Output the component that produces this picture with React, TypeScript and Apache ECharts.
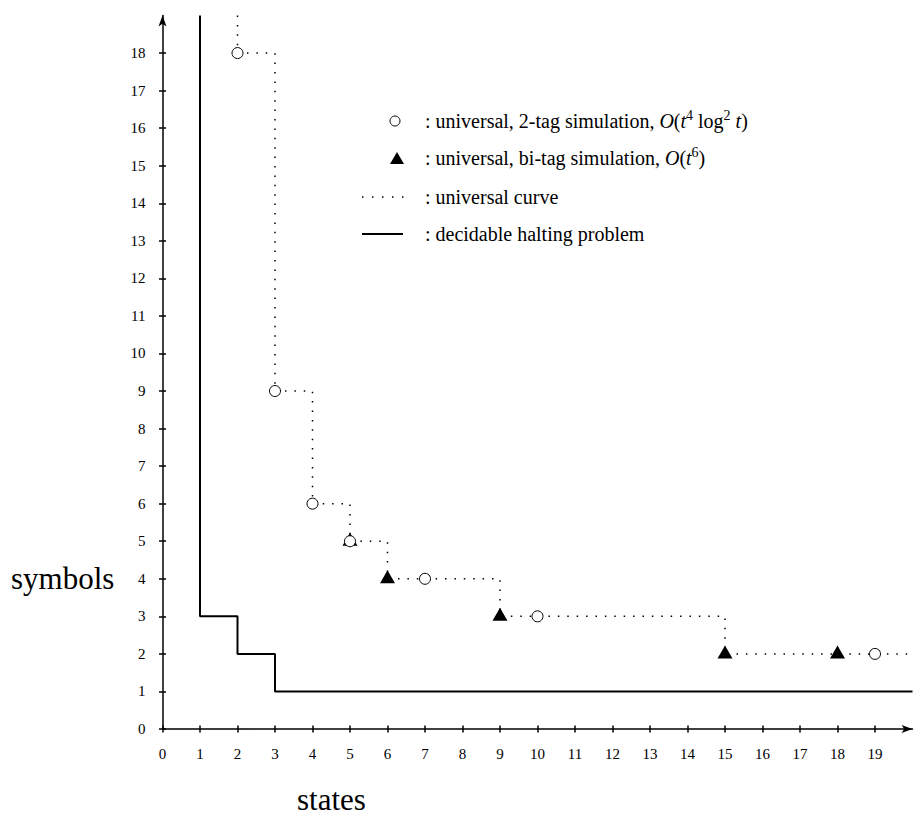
import React, { useEffect, useRef } from "react";
import * as echarts from "echarts";

const xTickValues = [0, 1, 2, 3, 4, 5, 6, 7, 8, 9, 10, 11, 12, 13, 14, 15, 16, 17, 18, 19];
const yTickValues = [0, 1, 2, 3, 4, 5, 6, 7, 8, 9, 10, 11, 12, 13, 14, 15, 16, 17, 18];

const twoTagStates = [2, 3, 4, 5, 7, 10, 19];
const twoTagSymbols = [18, 9, 6, 5, 4, 3, 2];

const biTagStates = [5, 6, 9, 15, 18];
const biTagSymbols = [5, 4, 3, 2, 2];

const universalStates = [2, 2, 3, 4, 5, 6, 9, 15, 20];
const universalSymbols = [19, 18, 9, 6, 5, 4, 3, 2, 2];

const haltingStates = [1, 1, 2, 3, 20];
const haltingSymbols = [19, 3, 2, 1, 1];

const FONT = "Liberation Serif";

function zip(xs: number[], ys: number[]) {
  return xs.map((x, i) => [x, ys[i]]);
}

export default function App() {
  const ref = useRef<HTMLDivElement>(null);
  useEffect(() => {
    if (!ref.current) return;
    const chart = echarts.init(ref.current, undefined, { renderer: "svg" });
    const axisLineStyle = { color: "#000", width: 1.5 };
    const legendRich = {
      t: { fontFamily: FONT, fontSize: 20, color: "#000", lineHeight: 26, verticalAlign: "middle" },
      i: { fontFamily: FONT, fontSize: 20, fontStyle: "italic", color: "#000", lineHeight: 26, verticalAlign: "middle" },
      s: { fontFamily: FONT, fontSize: 14, color: "#000", lineHeight: 26, verticalAlign: "top" },
    };
    const legendTitle = (text: string, cy: number) => ({
      text,
      left: 425,
      top: cy - 13,
      padding: 0,
      textStyle: { fontFamily: FONT, fontSize: 20, fontWeight: "normal", color: "#000", lineHeight: 26, rich: legendRich },
    });
    const bigText = { fontFamily: FONT, fontSize: 31, fontWeight: "normal", color: "#000", lineHeight: 34 };
    chart.setOption({
      animation: false,
      backgroundColor: "#fff",
      title: [
        legendTitle("{t|: universal, 2-tag simulation, }{i|O}{t|(}{i|t}{s|4}{t| log}{s|2}{t| }{i|t}{t|)}", 121),
        legendTitle("{t|: universal, bi-tag simulation, }{i|O}{t|(}{i|t}{s|6}{t|)}", 158),
        legendTitle("{t|: universal curve}", 197),
        legendTitle("{t|: decidable halting problem}", 234),
        { text: "symbols", left: 11, top: 561, padding: 0, textStyle: bigText },
        { text: "states", left: 297, top: 782, padding: 0, textStyle: bigText },
      ],
      grid: { left: 162.5, right: 2.5, top: 15.5, bottom: 86, containLabel: false },
      xAxis: [
        {
          type: "value",
          min: 0,
          max: 20,
          interval: 1,
          position: "bottom",
          axisLine: { show: true, lineStyle: axisLineStyle, symbol: ["none", "arrow"], symbolSize: [6, 11] },
          axisTick: { show: true, inside: false, length: 3.5, lineStyle: axisLineStyle, customValues: xTickValues },
          axisLabel: { color: "#000", fontFamily: FONT, fontSize: 15, margin: 17, customValues: xTickValues },
          splitLine: { show: false },
        },
        {
          type: "value",
          min: 0,
          max: 20,
          interval: 1,
          position: "bottom",
          offset: 0,
          axisLine: { show: false },
          axisTick: { show: true, inside: true, length: 3.5, lineStyle: axisLineStyle, customValues: xTickValues },
          axisLabel: { show: false },
          splitLine: { show: false },
        },
      ],
      yAxis: [
        {
          type: "value",
          min: 0,
          max: 19,
          interval: 1,
          position: "left",
          axisLine: { show: true, lineStyle: axisLineStyle, symbol: ["none", "arrow"], symbolSize: [6, 11] },
          axisTick: { show: true, inside: false, length: 3.5, lineStyle: axisLineStyle, customValues: yTickValues },
          axisLabel: { color: "#000", fontFamily: FONT, fontSize: 15, margin: 17, customValues: yTickValues },
          splitLine: { show: false },
        },
        {
          type: "value",
          min: 0,
          max: 19,
          interval: 1,
          position: "left",
          offset: 0,
          axisLine: { show: false },
          axisTick: { show: true, inside: true, length: 3.5, lineStyle: axisLineStyle, customValues: yTickValues },
          axisLabel: { show: false },
          splitLine: { show: false },
        },
      ],
      series: [
        {
          name: "decidable halting problem",
          type: "line",
          step: "end",
          data: zip(haltingStates, haltingSymbols),
          showSymbol: false,
          symbol: "none",
          lineStyle: { color: "#000", width: 2 },
          z: 2,
        },
        {
          name: "universal curve",
          type: "line",
          step: "end",
          data: zip(universalStates, universalSymbols),
          showSymbol: false,
          symbol: "none",
          lineStyle: { color: "#000", width: 1.5, type: [1.5, 7.9] },
          z: 2,
        },
        {
          name: "universal, bi-tag simulation",
          type: "scatter",
          data: zip(biTagStates, biTagSymbols),
          symbol: "triangle",
          symbolSize: [15, 13],
          symbolOffset: [0, -2],
          itemStyle: { color: "#000", opacity: 1 },
          z: 3,
        },
        {
          name: "universal, 2-tag simulation",
          type: "scatter",
          data: zip(twoTagStates, twoTagSymbols),
          symbol: "circle",
          symbolSize: 11,
          itemStyle: { color: "#fff", borderColor: "#000", borderWidth: 1, opacity: 1 },
          z: 4,
        },
      ],
      graphic: [
        { type: "circle", shape: { cx: 395, cy: 121, r: 5 }, style: { fill: "#fff", stroke: "#000", lineWidth: 1 } },
        { type: "polygon", shape: { points: [[390, 164], [404, 164], [397, 152]] }, style: { fill: "#000" } },
        { type: "line", shape: { x1: 362, y1: 197, x2: 404, y2: 197 }, style: { stroke: "#000", lineWidth: 1.5, lineDash: [1.5, 8.5] } },
        { type: "line", shape: { x1: 362, y1: 234, x2: 403, y2: 234 }, style: { stroke: "#000", lineWidth: 2 } },
      ],
    });
    return () => chart.dispose();
  }, []);
  return <div ref={ref} style={{ position: "absolute", left: 0, top: 0, width: 915, height: 815 }} />;
}
